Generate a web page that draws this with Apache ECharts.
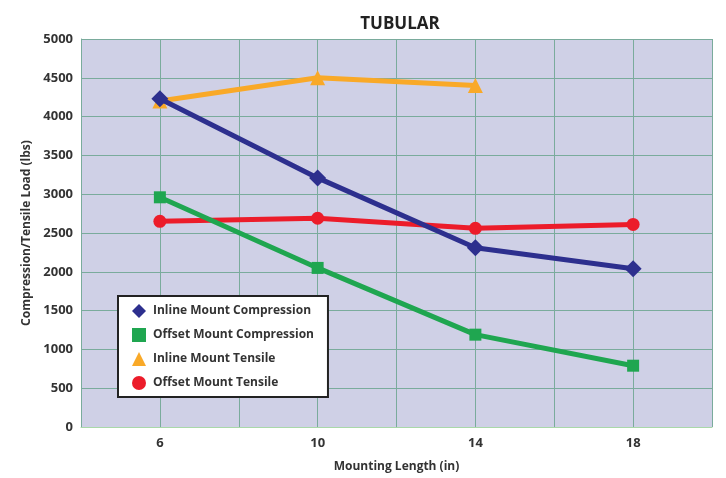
<!DOCTYPE html>
<html>
<head>
<meta charset="utf-8">
<script src="https://cdn.jsdelivr.net/npm/echarts@6/dist/echarts.min.js"></script>
<style>
  html, body { margin: 0; padding: 0; background: #fff; }
  #chart { width: 726px; height: 478px; }
</style>
</head>
<body>
<div id="chart"></div>
<script>
// mounting length (in)
var lengths = [6, 10, 14, 18];
var xTickLabels = ['6', '10', '14', '18'];

// load values (lbs)
var inlineCompression = [4230, 3210, 2310, 2040];
var offsetCompression = [2960, 2050, 1190, 790];
var inlineTensile = [4200, 4500, 4400];
var offsetTensile = [2650, 2690, 2560, 2610];

var seriesNames = [
  'Inline Mount Compression',
  'Offset Mount Compression',
  'Inline Mount Tensile',
  'Offset Mount Tensile'
];

function pairs(vals) {
  return vals.map(function (v, i) { return [lengths[i], v]; });
}

var chart = echarts.init(document.getElementById('chart'));
var gridColor = '#7aab9c';
var font = '"Open Sans", "Noto Sans", sans-serif';

chart.setOption({
  backgroundColor: '#fff',
  title: {
    text: 'TUBULAR',
    left: 395,
    textAlign: 'center',
    top: 11,
    textStyle: { fontFamily: font, fontSize: 17, fontWeight: 'bold', color: '#222' }
  },
  grid: { left: 81, right: 14, top: 39, bottom: 48, backgroundColor: '#cfd0e6', show: true, borderWidth: 0 },
  legend: {
    orient: 'vertical',
    left: 118,
    top: 296,
    backgroundColor: '#fff',
    borderColor: '#222',
    borderWidth: 2,
    padding: [8, 14, 7, 14],
    itemGap: 10,
    itemWidth: 14,
    itemHeight: 14,
    textStyle: { fontFamily: font, fontSize: 12, fontWeight: 'bold', color: '#333', padding: [0, 0, 0, 2] },
    data: [
      { name: seriesNames[0], icon: 'diamond' },
      { name: seriesNames[1], icon: 'rect' },
      { name: seriesNames[2], icon: 'triangle' },
      { name: seriesNames[3], icon: 'circle' }
    ]
  },
  xAxis: {
    type: 'value',
    min: 4,
    max: 20,
    interval: 2,
    name: 'Mounting Length (in)',
    nameLocation: 'middle',
    nameGap: 34,
    nameTextStyle: { fontFamily: font, fontSize: 12, fontWeight: 'bold', color: '#333' },
    axisLine: { show: true, lineStyle: { color: '#a9d8a9', width: 1 } },
    axisTick: { show: false },
    axisLabel: {
      fontFamily: font, fontSize: 13, fontWeight: 'bold', color: '#333', margin: 10,
      formatter: function (v) { return xTickLabels.indexOf(String(v)) >= 0 ? String(v) : ''; }
    },
    splitLine: { show: true, lineStyle: { color: gridColor, width: 1 } }
  },
  yAxis: {
    type: 'value',
    min: 0,
    max: 5000,
    interval: 500,
    name: 'Compression/Tensile Load (lbs)',
    nameLocation: 'middle',
    nameGap: 44,
    nameTextStyle: { fontFamily: font, fontSize: 12, fontWeight: 'bold', color: '#333' },
    axisLine: { show: true, lineStyle: { color: gridColor, width: 1 } },
    axisTick: { show: false },
    axisLabel: {
      fontFamily: font, fontSize: 13, fontWeight: 'bold', color: '#333', margin: 8,
      formatter: function (v) { return String(v); }
    },
    splitLine: { show: true, lineStyle: { color: gridColor, width: 1 } }
  },
  series: [
    {
      name: seriesNames[2], type: 'line', data: pairs(inlineTensile),
      symbol: 'triangle', symbolSize: 15,
      lineStyle: { color: '#f9a928', width: 5 },
      itemStyle: { color: '#f9a928' }, z: 2
    },
    {
      name: seriesNames[3], type: 'line', data: pairs(offsetTensile),
      symbol: 'circle', symbolSize: 13,
      lineStyle: { color: '#ec1c2a', width: 5 },
      itemStyle: { color: '#ec1c2a' }, z: 3
    },
    {
      name: seriesNames[1], type: 'line', data: pairs(offsetCompression),
      symbol: 'rect', symbolSize: 12,
      lineStyle: { color: '#1fa650', width: 5 },
      itemStyle: { color: '#1fa650' }, z: 4
    },
    {
      name: seriesNames[0], type: 'line', data: pairs(inlineCompression),
      symbol: 'diamond', symbolSize: 17,
      lineStyle: { color: '#2d2f8e', width: 5 },
      itemStyle: { color: '#2d2f8e' }, z: 5
    }
  ]
});
</script>
</body>
</html>
